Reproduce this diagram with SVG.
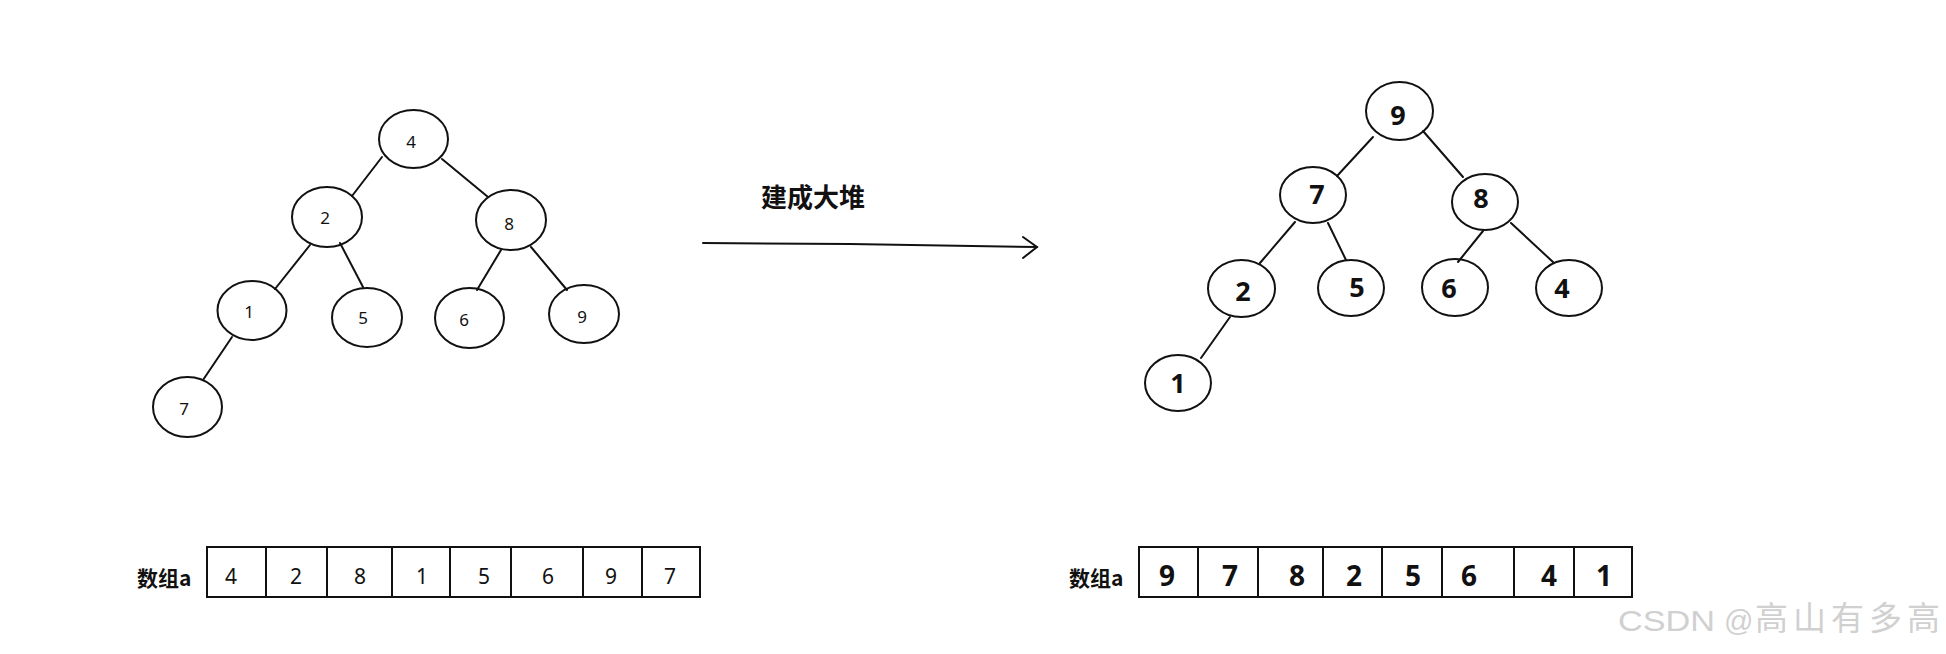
<svg xmlns="http://www.w3.org/2000/svg" width="1946" height="654" viewBox="0 0 1946 654">
<defs>
<style>
.bg{fill:#ffffff}
.node ellipse{fill:none;stroke:#111;stroke-width:2}
.edge{stroke:#111;stroke-width:2;fill:none;stroke-linecap:round}
.tl{font-family:"Noto Sans","Open Sans",sans-serif;font-size:17px;fill:#111;text-anchor:middle;dominant-baseline:central}
.tr{font-family:"Noto Sans","Open Sans",sans-serif;font-size:27px;font-weight:bold;fill:#111;text-anchor:middle;dominant-baseline:central}
.cell{fill:none;stroke:#111;stroke-width:2}
.al{font-family:"Noto Sans","Open Sans",sans-serif;font-size:21px;fill:#111;text-anchor:middle;dominant-baseline:central}
.ar{font-family:"Noto Sans","Open Sans",sans-serif;font-size:28px;font-weight:bold;fill:#111;text-anchor:middle;dominant-baseline:central}
.lab{font-family:"Noto Sans CJK SC","Noto Sans",sans-serif;font-size:21px;font-weight:bold;fill:#111;dominant-baseline:central}
.title{font-family:"Noto Sans CJK SC","Noto Sans",sans-serif;font-size:26px;font-weight:bold;fill:#111;dominant-baseline:central}
.wm{font-family:"Liberation Sans","Noto Sans CJK SC",sans-serif;fill:#d0d0d0}
</style>
</defs>
<rect class="bg" x="0" y="0" width="1946" height="654"/>

<g id="connectors">
  <!-- left tree -->
  <line class="edge" x1="382" y1="157" x2="352" y2="196"/>
  <line class="edge" x1="442" y1="159" x2="488" y2="197"/>
  <line class="edge" x1="310" y1="245" x2="275" y2="289"/>
  <line class="edge" x1="340" y1="243" x2="363" y2="287"/>
  <line class="edge" x1="501" y1="250" x2="477" y2="290"/>
  <line class="edge" x1="531" y1="247" x2="567" y2="290"/>
  <line class="edge" x1="232" y1="337" x2="203" y2="380"/>
  <!-- right tree -->
  <line class="edge" x1="1373" y1="137" x2="1337" y2="176"/>
  <line class="edge" x1="1423" y1="131" x2="1463" y2="177"/>
  <line class="edge" x1="1295" y1="222" x2="1260" y2="263"/>
  <line class="edge" x1="1328" y1="223" x2="1346" y2="260"/>
  <line class="edge" x1="1483" y1="231" x2="1458" y2="262"/>
  <line class="edge" x1="1511" y1="223" x2="1553" y2="262"/>
  <line class="edge" x1="1230" y1="317" x2="1201" y2="358"/>
  <!-- main arrow -->
  <path class="edge" d="M703,243 L850,244 L1037,247"/>
  <path class="edge" d="M1023,237 L1037,247 L1023,258"/>
</g>

<text class="title" x="761" y="195">建成大堆</text>

<!-- left tree nodes -->
<g id="L4" class="node"><ellipse cx="413.5" cy="139" rx="34.5" ry="29"/><text class="tl" x="411" y="141">4</text></g>
<g id="L2" class="node"><ellipse cx="327" cy="217" rx="35" ry="30"/><text class="tl" x="325" y="217">2</text></g>
<g id="L8" class="node"><ellipse cx="511" cy="220" rx="35" ry="30"/><text class="tl" x="509" y="223">8</text></g>
<g id="L1" class="node"><ellipse cx="252" cy="310.5" rx="34.5" ry="29.5"/><text class="tl" x="249" y="311">1</text></g>
<g id="L5" class="node"><ellipse cx="367" cy="317.5" rx="35" ry="29.5"/><text class="tl" x="363" y="317">5</text></g>
<g id="L6" class="node"><ellipse cx="469.5" cy="318" rx="34.5" ry="30"/><text class="tl" x="464" y="319">6</text></g>
<g id="L9" class="node"><ellipse cx="584" cy="314" rx="35" ry="29"/><text class="tl" x="582" y="316">9</text></g>
<g id="L7" class="node"><ellipse cx="187.5" cy="407" rx="34.5" ry="30"/><text class="tl" x="184" y="408">7</text></g>

<!-- right tree nodes -->
<g id="R9" class="node"><ellipse cx="1399.5" cy="111" rx="33.5" ry="29"/><text class="tr" x="1398" y="114">9</text></g>
<g id="R7" class="node"><ellipse cx="1313" cy="195" rx="33" ry="28"/><text class="tr" x="1317" y="193">7</text></g>
<g id="R8" class="node"><ellipse cx="1485" cy="202" rx="33" ry="28"/><text class="tr" x="1481" y="197">8</text></g>
<g id="R2" class="node"><ellipse cx="1241.5" cy="288.5" rx="33.5" ry="28.5"/><text class="tr" x="1243" y="290">2</text></g>
<g id="R5" class="node"><ellipse cx="1351" cy="288" rx="33" ry="28"/><text class="tr" x="1357" y="286">5</text></g>
<g id="R6" class="node"><ellipse cx="1455" cy="287.5" rx="33" ry="28.5"/><text class="tr" x="1449" y="287">6</text></g>
<g id="R4" class="node"><ellipse cx="1569" cy="288" rx="33" ry="28"/><text class="tr" x="1562" y="287">4</text></g>
<g id="R1" class="node"><ellipse cx="1178" cy="383" rx="33" ry="28"/><text class="tr" x="1178" y="382">1</text></g>

<!-- left array -->
<g id="arrayL">
  <text class="lab" x="137" y="577">数组a</text>
  <rect class="cell" x="207" y="547" width="493" height="50"/>
  <line class="cell" x1="266" y1="547" x2="266" y2="597"/>
  <line class="cell" x1="327" y1="547" x2="327" y2="597"/>
  <line class="cell" x1="392" y1="547" x2="392" y2="597"/>
  <line class="cell" x1="450" y1="547" x2="450" y2="597"/>
  <line class="cell" x1="511" y1="547" x2="511" y2="597"/>
  <line class="cell" x1="583" y1="547" x2="583" y2="597"/>
  <line class="cell" x1="642" y1="547" x2="642" y2="597"/>
  <text class="al" x="231" y="576">4</text>
  <text class="al" x="296" y="576">2</text>
  <text class="al" x="360" y="576">8</text>
  <text class="al" x="422" y="576">1</text>
  <text class="al" x="484" y="576">5</text>
  <text class="al" x="548" y="576">6</text>
  <text class="al" x="611" y="576">9</text>
  <text class="al" x="670" y="576">7</text>
</g>

<!-- right array -->
<g id="arrayR">
  <text class="lab" x="1069" y="577">数组a</text>
  <rect class="cell" x="1139" y="547" width="493" height="50"/>
  <line class="cell" x1="1198" y1="547" x2="1198" y2="597"/>
  <line class="cell" x1="1258" y1="547" x2="1258" y2="597"/>
  <line class="cell" x1="1323" y1="547" x2="1323" y2="597"/>
  <line class="cell" x1="1382" y1="547" x2="1382" y2="597"/>
  <line class="cell" x1="1442" y1="547" x2="1442" y2="597"/>
  <line class="cell" x1="1514" y1="547" x2="1514" y2="597"/>
  <line class="cell" x1="1574" y1="547" x2="1574" y2="597"/>
  <text class="ar" x="1167" y="575">9</text>
  <text class="ar" x="1230" y="575">7</text>
  <text class="ar" x="1297" y="575">8</text>
  <text class="ar" x="1354" y="575">2</text>
  <text class="ar" x="1413" y="575">5</text>
  <text class="ar" x="1469" y="575">6</text>
  <text class="ar" x="1549" y="575">4</text>
  <text class="ar" x="1604" y="575">1</text>
</g>

<g id="watermark">
  <text class="wm" x="1618" y="631" font-size="29" textLength="97" lengthAdjust="spacingAndGlyphs">CSDN</text>
  <text class="wm" x="1724" y="631" font-size="29">@</text>
  <text class="wm" x="1755" y="630" font-size="33" textLength="185" lengthAdjust="spacing">高山有多高</text>
</g>
</svg>
